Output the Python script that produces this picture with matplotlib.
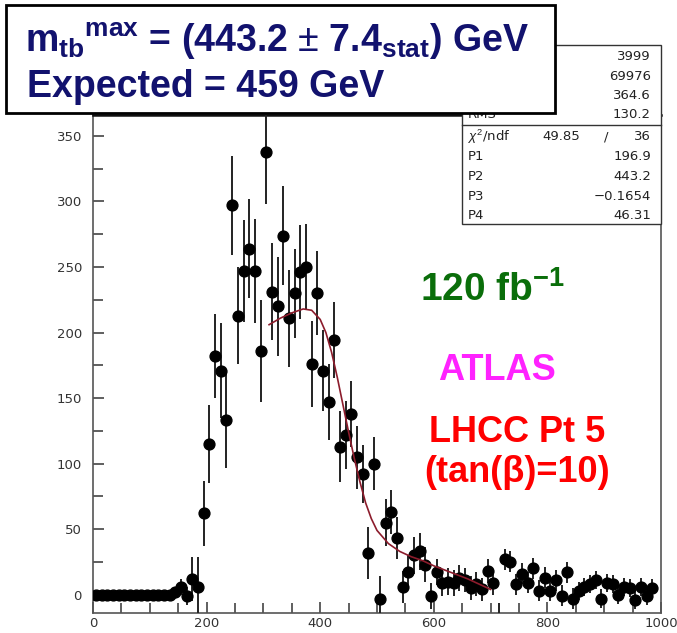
import numpy as np
import matplotlib
matplotlib.use("Agg")
import matplotlib.pyplot as plt
from matplotlib.patches import Rectangle
from matplotlib.lines import Line2D

plt.rcParams['font.family'] = ['Liberation Sans', 'DejaVu Sans']
plt.rcParams['mathtext.fontset'] = 'custom'
plt.rcParams['mathtext.rm'] = 'Liberation Sans'
plt.rcParams['mathtext.bf'] = 'Liberation Sans:bold'
plt.rcParams['mathtext.it'] = 'Liberation Sans:italic'

# histogram, 10 GeV bins (bin centres 5 ... 985)
mass = np.arange(5, 990, 10)
counts = [0, 0, 0, 0, 0, 0, 0, 0, 0, 0, 0, 0, 0, 0,
          2, 6, -1, 12, 6, 62, 115, 182, 171, 133,
          297, 213, 247, 264, 247, 186, 338, 231, 220, 274,
          211, 230, 246, 250, 176, 230, 171, 147, 194, 113,
          122, 138, 105, 92, 32, 100, -3, 55, 63, 43,
          6, 17, 30, 33, 23, -1, 17, 9, 10, 9,
          13, 11, 5, 8, 4, 18, 9, -22, 27, 25,
          8, 16, 9, 20, 3, 13, 3, 11, -1, 17,
          -3, 3, 6, 8, 11, -3, 9, 8, 0, 6,
          5, -4, 6, -1, 5]
errors = [0, 0, 0, 0, 0, 0, 0, 0, 0, 0, 0, 0, 0, 0,
          4, 6, 7, 17, 23, 25, 30, 32, 36, 36,
          38, 37, 39, 38, 40, 39, 40, 37, 38, 38,
          37, 34, 36, 33, 33, 32, 31, 29, 29, 27,
          26, 25, 24, 22, 20, 20, 17, 18, 17, 16,
          12, 13, 14, 14, 13, 10, 10, 10, 10, 10,
          10, 9, 9, 9, 9, 9, 9, 16, 8, 8,
          8, 8, 8, 8, 8, 8, 8, 8, 8, 8,
          8, 7, 7, 7, 7, 7, 7, 7, 7, 7,
          7, 7, 7, 7, 7]

# fitted curve
fit_x = [310, 330, 350, 370, 385, 400, 410, 420, 430, 440, 450, 460,
         470, 480, 490, 500, 520, 540, 560, 580, 600, 630, 660, 700]
fit_y = [206, 211, 215, 218, 217, 210, 200, 185, 166, 145, 124, 104,
         86, 70, 58, 49, 39, 33, 29, 26, 22, 17, 12, 4]

stat_labels = ['Nent', 'Mean', 'RMS']
stat_values = ['3999', '69976', '364.6', '130.2']
fit_labels = ['P1', 'P2', 'P3', 'P4']
fit_values = ['196.9', '443.2', '\u22120.1654', '46.31']

W, H = 677, 633
fig = plt.figure(figsize=(W / 100, H / 100), dpi=100)

def fx(px):
    return px / W

def fy(py):
    return 1 - py / H

ax = fig.add_axes([fx(93), fy(613), fx(661) - fx(93), fy(115) - fy(613)])
ax.errorbar(mass, counts, yerr=errors, fmt='o', color='black', ms=7.8,
            ecolor='#222222', elinewidth=1.4, capsize=0, zorder=3)
ax.plot(fit_x, fit_y, color='#8c1c2c', lw=1.2, zorder=4)

ax.set_xlim(0, 1000)
ax.set_ylim(-14, 366)
ax.set_xticks(np.arange(0, 1001, 200))
ax.set_xticks(np.arange(0, 1001, 50), minor=True)
ax.set_yticks(np.arange(0, 351, 50))
ax.set_yticks(np.arange(0, 351, 25), minor=True)
ax.tick_params(which='both', direction='in', top=False, right=False,
               color='#444444', width=1.2, labelsize=9.5, labelcolor='#333333')
ax.tick_params(which='major', length=8)
ax.tick_params(which='minor', length=7)
ax.tick_params(axis='y', pad=8)
ax.tick_params(axis='x', pad=3)
ax.set_xticklabels(['0', '200', '400', '600', '800', '1000'],
                   family='DejaVu Sans')
ax.set_yticklabels([str(v) for v in range(0, 351, 50)], family='DejaVu Sans')
for s in ['left', 'bottom', 'right']:
    ax.spines[s].set_color('#555555')
    ax.spines[s].set_linewidth(1.2)
ax.spines['top'].set_color('#111111')
ax.spines['top'].set_linewidth(1.8)

# annotations (figure pixel positions)
fig.text(fx(492), fy(290), r'120 fb$^{\mathbf{-1}}$', color='#0a6e0a', fontsize=28,
         fontweight='bold', ha='center', va='center')
fig.text(fx(497), fy(371), 'ATLAS', color='#ff22ff', fontsize=26, fontweight='bold',
         ha='center', va='center')
fig.text(fx(517), fy(433), 'LHCC Pt 5', color='#ff0000', fontsize=26,
         fontweight='bold', ha='center', va='center')
fig.text(fx(517), fy(472), '(tan(\u03b2)=10)', color='#ff0000', fontsize=26,
         fontweight='bold', ha='center', va='center')

# stats box
fig.add_artist(Rectangle((fx(461.5), fy(224)), fx(661) - fx(461.5), fy(45) - fy(224),
                         transform=fig.transFigure, facecolor='white',
                         edgecolor='#333333', lw=1.0, zorder=5))
fig.add_artist(Line2D([fx(461.5), fx(661)], [fy(125), fy(125)],
                      transform=fig.transFigure, color='#333333', lw=1.0, zorder=6))
sfont = dict(family='DejaVu Sans', fontsize=9.5, color='#222222', zorder=7,
             va='center')
for i, v in enumerate(stat_values):
    fig.text(fx(651), fy(57 + i * 19.3), v, ha='right', **sfont)
for i, lab in enumerate(stat_labels):
    fig.text(fx(468), fy(76 + i * 19.3), lab, ha='left', **sfont)
fig.text(fx(468), fy(137), r'$\chi^2$/ndf', ha='left', **sfont)
fig.text(fx(561), fy(137), '49.85', ha='center', **sfont)
fig.text(fx(606), fy(137), '/', ha='center', **sfont)
fig.text(fx(651), fy(137), '36', ha='right', **sfont)
for i, (lab, v) in enumerate(zip(fit_labels, fit_values)):
    fig.text(fx(468), fy(157 + i * 19.5), lab, ha='left', **sfont)
    fig.text(fx(651), fy(157 + i * 19.5), v, ha='right', **sfont)

# result box
fig.add_artist(Rectangle((fx(6), fy(113)), fx(555) - fx(6), fy(5) - fy(113),
                         transform=fig.transFigure, facecolor='white',
                         edgecolor='black', lw=2.0, zorder=8))
navy = '#12126e'
fig.text(fx(25), fy(52),
         r'm$_{\mathbf{tb}}$$^{\mathbf{max}}$ = (443.2 $\pm$ 7.4$_{\mathbf{stat}}$) GeV',
         color=navy, fontsize=27, fontweight='bold', ha='left', va='baseline',
         zorder=9)
fig.text(fx(27), fy(97), 'Expected = 459 GeV', color=navy, fontsize=27,
         fontweight='bold', ha='left', va='baseline', zorder=9)

fig.savefig('out.png', dpi=100)
